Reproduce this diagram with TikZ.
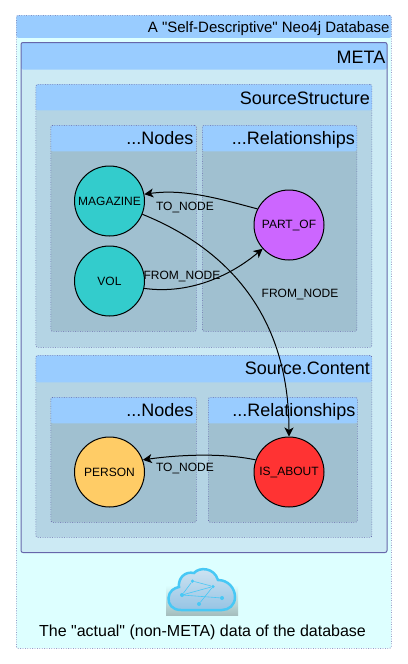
\documentclass[tikz,border=0pt]{standalone}
\usepackage{fontspec}
\setmainfont{Liberation Sans}[Ligatures=TeXOff]
\usepackage{xcolor}
\usetikzlibrary{arrows.meta,positioning}
\definecolor{outerfill}{RGB}{221,255,255}
\definecolor{headerblue}{RGB}{153,204,255}
\definecolor{metafill}{RGB}{204,234,244}
\definecolor{sectionfill}{RGB}{180,212,228}
\definecolor{innerfill}{RGB}{160,192,208}
\definecolor{panelrule}{RGB}{102,102,170}
\definecolor{nodeteal}{RGB}{51,204,204}
\definecolor{nodepurple}{RGB}{204,102,255}
\definecolor{nodeorange}{RGB}{255,204,102}
\definecolor{nodered}{RGB}{255,51,51}
\definecolor{cloudrim}{RGB}{72,200,245}
\definecolor{cloudtop}{RGB}{208,228,242}
\definecolor{cloudlow}{RGB}{150,196,228}
\definecolor{cloudback}{RGB}{165,190,190}
\tikzset{
  panel/.style={anchor=north west,inner sep=0pt,rounded corners=2pt,
    draw=panelrule,dash pattern=on .8pt off 1.6pt,line width=.7pt},
  headed/.style={path picture={\fill[headerblue]
    (path picture bounding box.north west) rectangle
    ([yshift=-#1]path picture bounding box.north east);}},
  paneltitle/.style={anchor=north east,inner sep=0pt,text=black,
    font=\fontsize{18}{20}\selectfont,text height=13pt,text depth=4pt},
  entity/.style={circle,draw=black,line width=1pt,minimum size=70pt,inner sep=0pt,
    font=\fontsize{12}{14}\selectfont},
  flow/.style={-{Stealth[length=9pt,width=9pt,inset=2.5pt]},line width=1pt,draw=black},
  flowlabel/.style={inner sep=0pt,font=\fontsize{12}{14}\selectfont},
  cloudlink/.style={draw=cloudrim,line width=.6pt},
  clouddot/.style={circle,fill=cloudrim,inner sep=0pt,minimum size=4pt}
}
\begin{document}
\begin{tikzpicture}[x=1pt,y=-1pt]
  \useasboundingbox (0,0) rectangle (407,664);
  % database frame
  \node[panel,fill=outerfill,headed=22.5pt,minimum width=375pt,minimum height=633pt] (db) at (16,15) {};
  \node[paneltitle,font=\fontsize{15}{17}\selectfont,text height=11pt] (dbtitle) at ([xshift=-2pt,yshift=-6pt]db.north east) {A "Self-Descriptive" Neo4j Database};
  % meta
  \node[panel,solid,line width=1pt,fill=metafill,headed=27pt,minimum width=366pt,minimum height=510pt] (meta) at (20.5,42) {};
  \node[paneltitle] (metatitle) at ([xshift=-2pt,yshift=-8pt]meta.north east) {META};
  % source structure
  \node[panel,fill=sectionfill,headed=26pt,minimum width=336pt,minimum height=263pt] (structure) at (35.5,84) {};
  \node[paneltitle] (structuretitle) at ([xshift=-2pt,yshift=-7pt]structure.north east) {SourceStructure};
  \node[panel,fill=innerfill,headed=26pt,minimum width=145.5pt,minimum height=206pt] (snodes) at (50.5,125) {};
  \node[paneltitle] (snodestitle) at ([xshift=-3pt,yshift=-6pt]snodes.north east) {...Nodes};
  \node[panel,fill=innerfill,headed=26pt,minimum width=154.5pt,minimum height=206pt] (srels) at (202,125) {};
  \node[paneltitle] (srelstitle) at ([xshift=-2pt,yshift=-6pt]srels.north east) {...Relationships};
  % source content
  \node[panel,fill=sectionfill,headed=27pt,minimum width=336pt,minimum height=182pt] (content) at (35.5,355) {};
  \node[paneltitle] (contenttitle) at ([xshift=-2pt,yshift=-6pt]content.north east) {Source.Content};
  \node[panel,fill=innerfill,headed=26pt,minimum width=145.5pt,minimum height=125pt] (cnodes) at (50.5,397) {};
  \node[paneltitle] (cnodestitle) at ([xshift=-3pt,yshift=-6pt]cnodes.north east) {...Nodes};
  \node[panel,fill=innerfill,headed=26pt,minimum width=149pt,minimum height=125pt] (crels) at (208,397) {};
  \node[paneltitle] (crelstitle) at ([xshift=-2pt,yshift=-6pt]crels.north east) {...Relationships};
  % entities
  \node[entity,fill=nodeteal] (magazine) at (109.5,201) {MAGAZINE};
  \node[entity,fill=nodeteal] (vol) at (109.5,281) {VOL};
  \node[entity,fill=nodepurple] (partof) at (289,225) {PART\_OF};
  \node[entity,fill=nodeorange] (person) at (109.5,472) {PERSON};
  \node[entity,fill=nodered] (isabout) at (289,472) {IS\_ABOUT};
  \draw[flow] (partof.153) to[out=165,in=8,looseness=.9] (magazine.11);
  \draw[flow] (vol.-12) to[out=-8,in=220,looseness=.9] (partof.222);
  \draw[flow] (magazine.-22) to[out=-22,in=90,out looseness=.69,in looseness=1.32] (isabout.north);
  \draw[flow] (isabout.160) to[out=168,in=8,looseness=.8] (person.20);
  \node[flowlabel] (tolabel) at (185,207) {TO\_NODE};
  \node[flowlabel] (fromlabel) at (182,276) {FROM\_NODE};
  \node[flowlabel] (fromlabeltwo) at (300,294) {FROM\_NODE};
  \node[flowlabel] (tolabeltwo) at (185,468) {TO\_NODE};
  % cloud icon
  \fill[top color=outerfill,bottom color=cloudback] (166,585) rectangle (238,615);
  \draw[line width=2.5pt,draw=cloudrim,top color=cloudtop,bottom color=cloudlow]
    (181,610) .. controls (172,610) and (168,604) .. (168.5,598)
    .. controls (169,591) and (174,588) .. (179,587)
    .. controls (178,578) and (185,571) .. (194,573)
    .. controls (199,567) and (214,567) .. (218,580)
    .. controls (228,580) and (235,588) .. (235,597)
    .. controls (235,605) and (229,610) .. (222,610) -- cycle;
  \node[clouddot,minimum size=3.5pt] (cloudc) at (192.5,581) {};
  \node[clouddot,minimum size=3.5pt] (cloudd) at (213,586.5) {};
  \node[clouddot] (clouda) at (182,595) {};
  \node[clouddot] (cloudb) at (222,598) {};
  \node[clouddot] (cloude) at (199,604) {};
  \draw[cloudlink] (clouda) -- (cloudc) -- (cloudd) -- (clouda) -- (cloudb);
  \draw[cloudlink] (cloudd) -- (cloude);
  \node[inner sep=0pt,font=\fontsize{16}{18}\selectfont] (dbcaption) at (202.5,632) {The "actual" (non-META) data of the database};
\end{tikzpicture}
\end{document}
